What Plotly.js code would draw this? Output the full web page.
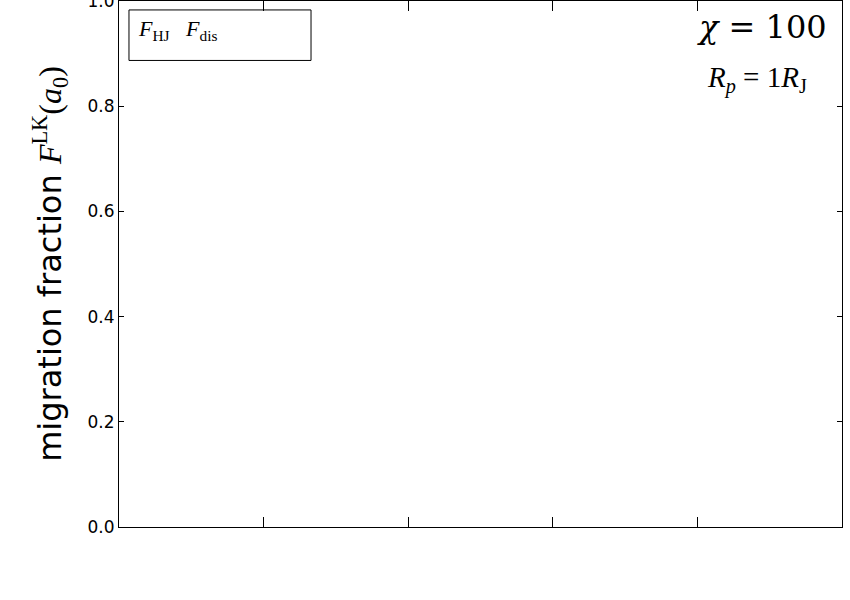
<!DOCTYPE html>
<html>
<head>
<meta charset="utf-8">
<script src="https://cdn.plot.ly/plotly-3.0.1.min.js"></script>
<style>html,body{margin:0;padding:0;background:#fff;}#chart{width:850px;height:600px;}</style>
</head>
<body>
<div id="chart"></div>
<script>
// Data (the reference panel contains no plotted marks)
const seriesNames = ['<i>F</i><sub>HJ</sub>', '<i>F</i><sub>dis</sub>'];
const xValues = [[], []];
const yValues = [[], []];
const xTickVals = [1, 2, 3, 4];
const yTickVals = [0, 0.2, 0.4, 0.6, 0.8, 1.0];
const yTickText = ['0.0', '0.2', '0.4', '0.6', '0.8', '1.0'];
const chiLabel = '<i>χ</i> = 100';
const radiusLabel = '<i>R<sub>p</sub></i> = 1<i>R</i><sub>J</sub>';

const traces = seriesNames.map((n, i) => ({
  x: xValues[i], y: yValues[i], type: 'scatter', mode: 'lines', name: n, showlegend: false
}));

const serif = 'Liberation Serif';
const layout = {
  width: 850, height: 600,
  margin: {l: 119, r: 8, t: 1, b: 73},
  paper_bgcolor: '#fff', plot_bgcolor: '#fff',
  showlegend: false,
  xaxis: {
    range: [0, 5], tickvals: xTickVals, showticklabels: false,
    ticks: 'inside', ticklen: 10, tickwidth: 1, tickcolor: '#000',
    showline: true, linecolor: '#000', linewidth: 1, mirror: 'allticks',
    showgrid: false, zeroline: false
  },
  yaxis: {
    range: [0, 1], tickvals: yTickVals, ticktext: yTickText,
    ticks: 'inside', ticklen: 5, tickwidth: 1, tickcolor: '#000',
    showline: true, linecolor: '#000', linewidth: 1, mirror: 'allticks',
    showgrid: false, zeroline: false, ticklabeloverflow: 'allow',
    tickfont: {family: 'DejaVu Sans', size: 17, color: '#000'},
    title: {
      text: 'migration fraction <span style="font-family:Liberation Serif">' +
            '<i>F</i><sup>LK</sup>(<i>a</i><sub>0</sub>)</span>',
      font: {family: 'DejaVu Sans', size: 32, color: '#000'},
      standoff: 16
    }
  },
  shapes: [{
    type: 'rect', xref: 'paper', yref: 'paper',
    x0: 0.0138, x1: 0.2656, y0: 0.887, y1: 0.983,
    line: {color: '#000', width: 1}, fillcolor: 'rgba(0,0,0,0)'
  }],
  annotations: [
    {xref: 'paper', yref: 'paper', x: 0.024, y: 0.975, xanchor: 'left', yanchor: 'top',
     text: seriesNames.join('&nbsp;&nbsp;&nbsp;'), showarrow: false,
     font: {family: serif, size: 22, color: '#000'}},
    {xref: 'paper', yref: 'paper', x: 0.982, y: 0.99, xanchor: 'right', yanchor: 'top',
     text: chiLabel, showarrow: false,
     font: {family: 'DejaVu Serif', size: 32, color: '#000'}},
    {xref: 'paper', yref: 'paper', x: 0.81, y: 0.89, xanchor: 'left', yanchor: 'top',
     text: radiusLabel, showarrow: false,
     font: {family: serif, size: 29, color: '#000'}}
  ]
};

Plotly.newPlot('chart', traces, layout, {displayModeBar: false, staticPlot: true});
</script>
</body>
</html>
